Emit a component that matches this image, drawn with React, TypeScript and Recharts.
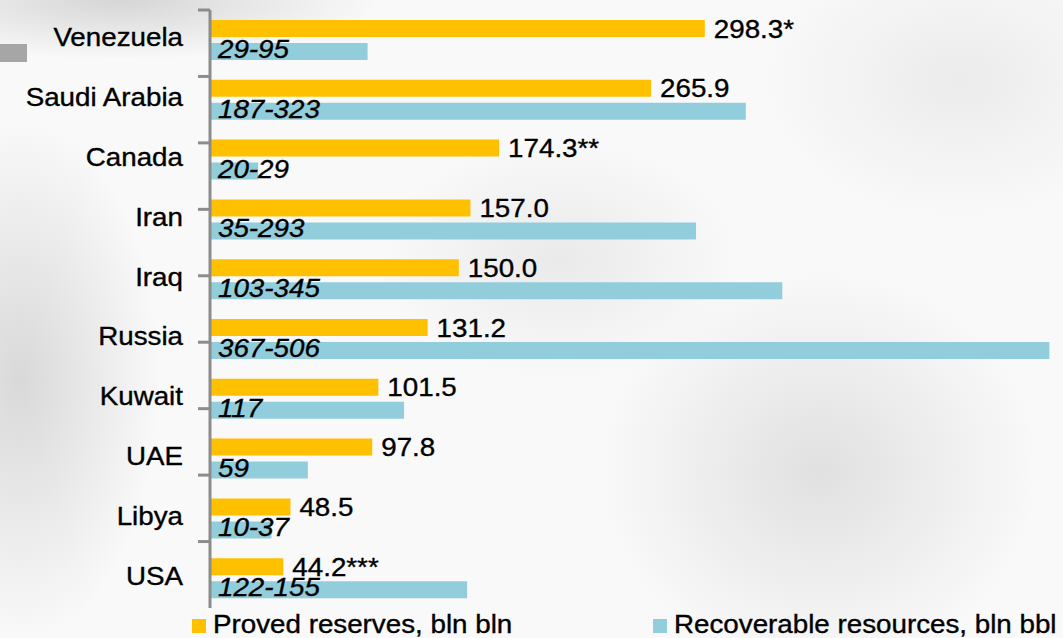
import { BarChart, Bar, XAxis, YAxis, LabelList } from "recharts"

const countries = ["Venezuela", "Saudi Arabia", "Canada", "Iran", "Iraq", "Russia", "Kuwait", "UAE", "Libya", "USA"]
const provedReserves = [298.3, 265.9, 174.3, 157.0, 150.0, 131.2, 101.5, 97.8, 48.5, 44.2]
const provedNotes = ["*", "", "**", "", "", "", "", "", "", "***"]
const recoverableLow = [29, 187, 20, 35, 103, 367, null, null, 10, 122]
const recoverableHigh = [95, 323, 29, 293, 345, 506, 117, 59, 37, 155]
const frameTicks = [0, 1, 2, 3, 4, 5, 6, 7, 8, 9, 10]

const seriesNames = ["Proved reserves, bln bln", "Recoverable resources, bln bbl"]
const GOLD = "#FFC000"
const BLUE = "#92CDDC"
const AXIS = "#8c8c8c"
const FONT = "'Liberation Sans', Arial, sans-serif"

const data = countries.map((name, i) => ({
	name,
	proved: provedReserves[i],
	provedLabel: provedReserves[i].toFixed(1) + provedNotes[i],
	recoverable: recoverableHigh[i],
	recoverableLabel: recoverableLow[i] === null ? `${recoverableHigh[i]}` : `${recoverableLow[i]}-${recoverableHigh[i]}`,
}))

// text is drawn slightly wider than it is tall, like the source picture
const stretch = (x: number, y: number) => `translate(${x} ${y}) scale(1.11 1) translate(${-x} ${-y})`
const textStyle = { fontSize: 25, fill: "#000", stroke: "#000", strokeWidth: 0.35, fontFamily: FONT }

// frame axis only shows its tick marks (band boundaries), no text
const NoTickText = () => <g />

function CountryTick(props: any) {
	const { x, y, payload } = props
	return (
		<text x={x} y={y - 2} textAnchor="end" dominantBaseline="central" {...textStyle} transform={stretch(x, y)}>
			{payload.value}
		</text>
	)
}

function ProvedLabel(props: any) {
	const { x, y, width, height, index } = props
	const tx = x + width + 9
	const ty = y + height / 2 + 0.5
	return (
		<text x={tx} y={ty} dominantBaseline="central" {...textStyle} transform={stretch(tx, ty)}>
			{data[index].provedLabel}
		</text>
	)
}

function RecoverableLabel(props: any) {
	const { x, y, height, index } = props
	const tx = x + 8
	const ty = y + height / 2 - 2
	return (
		<text x={tx} y={ty} dominantBaseline="central" fontStyle="italic" {...textStyle} transform={stretch(tx, ty)}>
			{data[index].recoverableLabel}
		</text>
	)
}

function LegendItem({ color, label, left }: { color: string; label: string; left: number }) {
	return (
		<div style={{ position: "absolute", left, top: 612, height: 24, display: "flex", alignItems: "center", whiteSpace: "nowrap" }}>
			<div style={{ width: 14, height: 14, background: color, marginRight: 7, marginTop: 4 }} />
			<span
				style={{
					fontFamily: FONT,
					fontSize: 25,
					lineHeight: "25px",
					color: "#000",
					WebkitTextStroke: "0.35px #000",
					display: "inline-block",
					transform: "scaleX(1.11)",
					transformOrigin: "left center",
				}}
			>
				{label}
			</span>
		</div>
	)
}

export default function App() {
	return (
		<div
			style={{
				position: "absolute",
				left: 0,
				top: 0,
				width: 1063,
				height: 638,
				overflow: "hidden",
				background:
					"radial-gradient(ellipse 140px 260px at 20px 380px, rgba(190,190,190,0.55), rgba(255,255,255,0) 100%)," +
					"radial-gradient(ellipse 260px 60px at 120px 0px, rgba(190,190,190,0.6), rgba(255,255,255,0) 100%)," +
					"radial-gradient(ellipse 220px 200px at 820px 470px, rgba(200,200,200,0.5), rgba(255,255,255,0) 100%)," +
					"radial-gradient(ellipse 180px 120px at 560px 260px, rgba(215,215,215,0.45), rgba(255,255,255,0) 100%)," +
					"radial-gradient(ellipse 200px 140px at 960px 80px, rgba(215,215,215,0.4), rgba(255,255,255,0) 100%)," +
					"#f9f9f9",
			}}
		>
			<div style={{ position: "absolute", left: 0, top: 44, width: 27, height: 18, background: "#a6a6a6" }} />
			<BarChart
				width={1063}
				height={638}
				data={data}
				layout="vertical"
				margin={{ top: 10, right: 7, bottom: 30, left: 0 }}
				barSize={17}
				barGap={6}
				style={{ position: "absolute", left: 0, top: 0 }}
			>
				<XAxis type="number" domain={[0, 510]} hide />
				<YAxis
					yAxisId="a"
					type="number"
					orientation="left"
					domain={[0, 10]}
					ticks={frameTicks}
					width={1}
					tick={<NoTickText />}
					tickSize={12}
					axisLine={{ stroke: AXIS, strokeWidth: 3 }}
					tickLine={{ stroke: AXIS, strokeWidth: 3 }}
				/>
				<YAxis
					yAxisId="b"
					type="category"
					dataKey="name"
					width={209}
					axisLine={false}
					tickLine={false}
					tickSize={0}
					tickMargin={26}
					interval={0}
					tick={<CountryTick />}
				/>
				<Bar yAxisId="b" dataKey="proved" name={seriesNames[0]} fill={GOLD} isAnimationActive={false}>
					<LabelList dataKey="provedLabel" content={<ProvedLabel />} />
				</Bar>
				<Bar yAxisId="b" dataKey="recoverable" name={seriesNames[1]} fill={BLUE} isAnimationActive={false}>
					<LabelList dataKey="recoverableLabel" content={<RecoverableLabel />} />
				</Bar>
			</BarChart>
			<LegendItem color={GOLD} label={seriesNames[0]} left={192} />
			<LegendItem color={BLUE} label={seriesNames[1]} left={653} />
		</div>
	)
}
